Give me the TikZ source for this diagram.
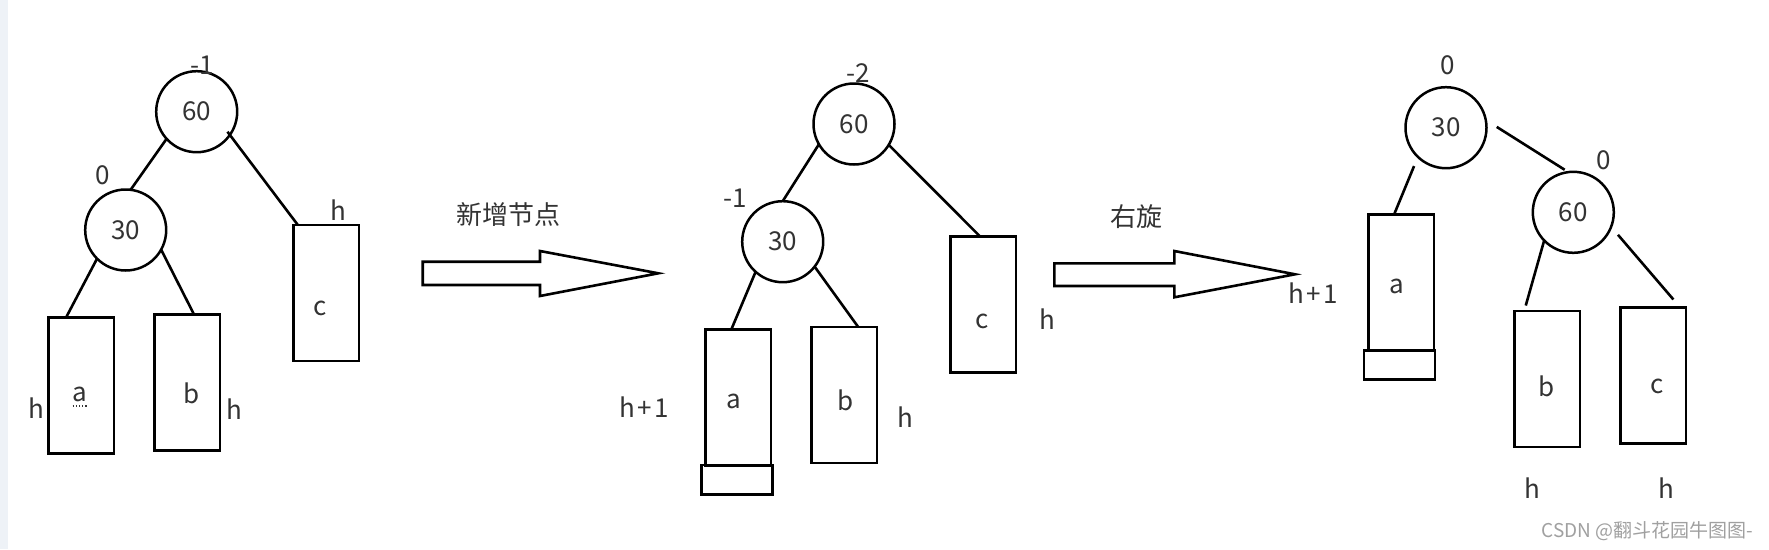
\documentclass[tikz,border=0pt]{standalone}
\usepackage{fontspec}
\setmainfont{Noto Sans CJK SC}
\usetikzlibrary{calc}
\definecolor{ink}{HTML}{333333}
\definecolor{strip}{HTML}{EEF2F7}
\definecolor{markgray}{HTML}{A0A0A0}
\newcommand{\hplusone}{h\hspace{2pt}+\hspace{2pt}1}

\begin{document}
\begin{tikzpicture}[x=1pt,y=-1pt,
  every node/.style={inner sep=0pt,outer sep=0pt},
  keynode/.style={circle,draw,line width=2.5pt,minimum size=81pt,
    font=\fontsize{26}{30}\selectfont,text=ink},
  subtree/.style={rectangle,draw,line width=2.8pt,minimum width=65.5pt,minimum height=136pt},
  growth/.style={rectangle,draw,line width=2.8pt,minimum width=71pt,minimum height=29.5pt},
  lbl/.style={font=\fontsize{26}{30}\selectfont,text=ink},
  link/.style={line width=2.6pt},
  bigarrow/.style={draw,line width=2.6pt,line join=miter,fill=white},
  wmark/.style={font=\fontsize{19}{22}\selectfont,text=markgray}
]
\useasboundingbox (0,0) rectangle (1769,549);
\fill[white] (0,0) rectangle (1769,549);
\fill[strip] (0,0) rectangle (8,549);

% ---------- tree before insertion ----------
\node[keynode] (t1n60) at (196.7,111.7) {60};
\node[keynode] (t1n30) at (125.7,230) {30};
\node[subtree] (t1a) at (81.3,385.7) {};
\node[subtree] (t1b) at (187.2,382.8) {};
\node[subtree] (t1c) at (326.2,293) {};
\node[lbl] (t1la) at (80,394) {a};
\node[lbl] (t1lb) at (191.7,393) {b};
\node[lbl] (t1lc) at (320,308) {c};
\node[lbl] (t1b60) at (202.5,65) {-1};
\node[lbl] (t1b30) at (102.7,175) {0};
\node[lbl] (t1hc) at (338,210) {h};
\node[lbl] (t1ha) at (36.7,408) {h};
\node[lbl] (t1hb) at (234,409) {h};
\draw[dotted,ink,line width=1.2pt] ($(t1la.south west)+(0,4.5)$) -- ($(t1la.south east)+(0,4.5)$);

\draw[link] (t1n60.222) -- (t1n30.83);
\draw[link,shorten <=-4pt] (t1n60.-35) -- ([xshift=4.4pt]t1c.north west);
\draw[link] (t1n30.225) -- ([xshift=17.4pt]t1a.north west);
\draw[link] (t1n30.-29) -- ([xshift=7pt]t1b.north);

% ---------- first transition ----------
\node[lbl] (step1) at (508,215) {新增节点};
\draw[bigarrow] (422.7,261.7) -- (540,261.7) -- (540,251) -- (658.3,273.3)
  -- (540,296) -- (540,285) -- (422.7,285) -- cycle;

% ---------- tree after insertion ----------
\node[keynode] (t2n60) at (854,124) {60};
\node[keynode] (t2n30) at (782.7,241.7) {30};
\node[subtree] (t2a) at (738.3,397.5) {};
\node[growth] (t2g) at (737,479.7) {};
\node[subtree] (t2b) at (844.2,395) {};
\node[subtree] (t2c) at (983.3,304.7) {};
\node[lbl] (t2la) at (734.3,401.7) {a};
\node[lbl] (t2lb) at (845.7,400) {b};
\node[lbl] (t2lc) at (982.3,321.7) {c};
\node[lbl] (t2b60) at (858.3,72.7) {-2};
\node[lbl] (t2b30) at (735,198.3) {-1};
\node[lbl] (t2ha) at (644.3,407.3) {\hplusone};
\node[lbl] (t2hb) at (905.7,416.7) {h};
\node[lbl] (t2hc) at (1047,319.3) {h};

\draw[link] (t2n60.210) -- (t2n30.90);
\draw[link] (t2n60.-31) -- ([xshift=-3pt]t2c.north);
\draw[link] (t2n30.228) -- ([xshift=-7pt]t2a.north);
\draw[link] (t2n30.-38) -- ([xshift=14pt]t2b.north);

% ---------- second transition ----------
\node[lbl] (step2) at (1136.7,216.7) {右旋};
\draw[bigarrow] (1054.3,263.3) -- (1174.3,263.3) -- (1174.3,251) -- (1295,274.3)
  -- (1174.3,297.3) -- (1174.3,286) -- (1054.3,286) -- cycle;

% ---------- tree after right rotation ----------
\node[keynode] (t3n30) at (1446,127.7) {30};
\node[keynode] (t3n60) at (1573.3,212.3) {60};
\node[subtree] (t3a) at (1401.2,282.2) {};
\node[growth] (t3g) at (1399.5,365) {};
\node[subtree] (t3b) at (1547.2,379) {};
\node[subtree] (t3c) at (1653.3,375.8) {};
\node[lbl] (t3la) at (1396.7,286.7) {a};
\node[lbl] (t3lb) at (1546.7,386.7) {b};
\node[lbl] (t3lc) at (1656.7,386.7) {c};
\node[lbl] (t3b30) at (1447.7,65) {0};
\node[lbl] (t3b60) at (1603.3,160) {0};
\node[lbl] (t3ha) at (1313.3,293.3) {\hplusone};
\node[lbl] (t3hb) at (1532.3,487.7) {h};
\node[lbl] (t3hc) at (1666.7,487.7) {h};

\draw[link,shorten <=13pt,shorten >=4.4pt] (t3n30.11) -- (t3n60.97);
\draw[link,shorten <=10pt] (t3n30.226) -- ([xshift=-7pt]t3a.north);
\draw[link,shorten >=5.7pt] (t3n60.224) -- ([xshift=-23pt]t3b.north);
\draw[link,shorten <=10.5pt,shorten >=11pt] (t3n60.-21.5) -- ([xshift=27.2pt]t3c.north);

% ---------- footer ----------
\node[wmark,anchor=east] (credit) at (1753,531) {CSDN @翻斗花园牛图图-};
\end{tikzpicture}
\end{document}
